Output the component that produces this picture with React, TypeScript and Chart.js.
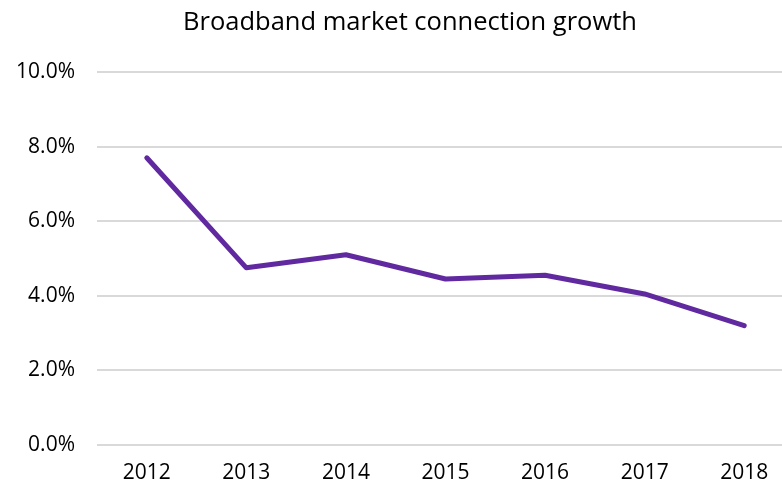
import React, { useEffect, useRef } from "react";
import { Chart, registerables } from "chart.js";

Chart.register(...registerables);

const years = ["2012", "2013", "2014", "2015", "2016", "2017", "2018"];
const growth = [7.7, 4.75, 5.1, 4.45, 4.55, 4.05, 3.2];
const yTicks = [0, 2, 4, 6, 8, 10];
const TITLE = "Broadband market connection growth";

const FONT = "'Open Sans', 'Noto Sans', sans-serif";

const titlePlugin = {
  id: "customTitle",
  afterDraw(chart: any) {
    const ctx = chart.ctx;
    ctx.save();
    ctx.font = `25.5px ${FONT}`;
    ctx.fillStyle = "#000";
    ctx.textAlign = "center";
    ctx.textBaseline = "middle";
    ctx.fillText(TITLE, 410, 23);
    ctx.restore();
  },
};

export default function App() {
  const ref = useRef<HTMLCanvasElement>(null);
  useEffect(() => {
    document.body.style.margin = "0";
    document.body.style.overflow = "hidden";
    const chart = new Chart(ref.current!, {
      type: "line",
      data: {
        labels: years,
        datasets: [
          {
            data: growth,
            borderColor: "#6129a0",
            borderWidth: 5,
            pointRadius: 0,
            tension: 0,
            borderCapStyle: "round",
            borderJoinStyle: "round",
          },
        ],
      },
      plugins: [titlePlugin],
      options: {
        animation: false,
        responsive: false,
        layout: { padding: { left: 0, right: 26, top: 72, bottom: 0 } },
        plugins: {
          legend: { display: false },
          tooltip: { enabled: false },
          title: { display: false },
        },
        scales: {
          x: {
            offset: true,
            afterFit: (s: any) => {
              s.height = 39;
            },
            grid: { display: false, drawTicks: false },
            border: { display: false },
            ticks: {
              color: "#000",
              font: { family: FONT, size: 21 },
              padding: 15,
              maxRotation: 0,
            },
          },
          y: {
            min: 0,
            max: 10,
            afterFit: (s: any) => {
              s.width = 97;
            },
            afterBuildTicks: (s: any) => {
              s.ticks = yTicks.map((v) => ({ value: v }));
            },
            grid: { color: "#d9d9d9", lineWidth: 2, drawTicks: false },
            border: { display: false },
            ticks: {
              color: "#000",
              font: { family: FONT, size: 21 },
              padding: 22,
              callback: (v: any) => Number(v).toFixed(1) + "%",
            },
          },
        },
      },
    });
    return () => chart.destroy();
  }, []);
  return (
    <div style={{ width: 782, height: 484, overflow: "hidden", position: "relative" }}>
      <canvas ref={ref} width={820} height={484} style={{ position: "absolute", left: 0, top: 0 }} />
    </div>
  );
}
